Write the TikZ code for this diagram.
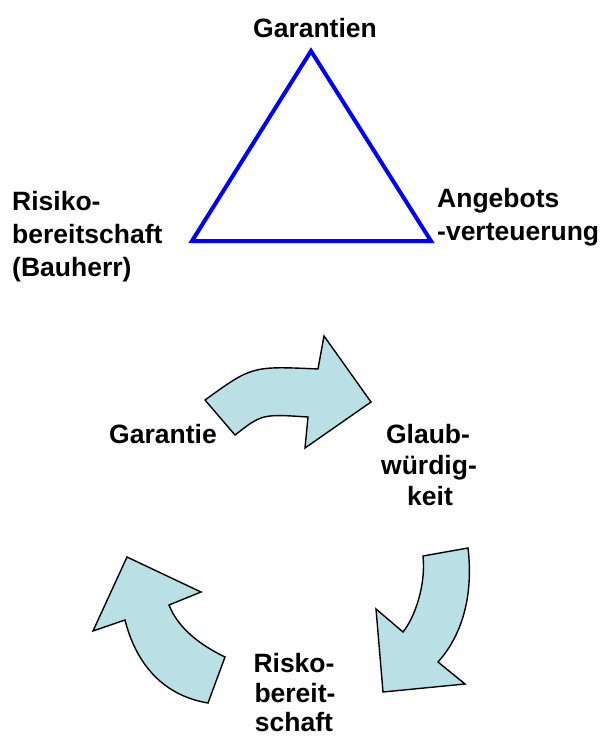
\documentclass[tikz,border=0pt]{standalone}
\usepackage{fontspec}
\setmainfont{Liberation Sans}
\begin{document}
\begin{tikzpicture}[x=1pt,y=-1pt,
  lbl/.style={font=\fontsize{26.5}{31}\selectfont\bfseries, inner sep=0pt},
  cyc/.style={fill={rgb,255:red,185;green,224;blue,228}, draw=black, line width=1.4pt, line join=miter},
  tri/.style={draw={rgb,255:red,0;green,0;blue,255}, line width=4pt, line join=miter}]
\useasboundingbox (0,0) rectangle (603,738);
% triangle
\coordinate (ta) at (311,51);
\coordinate (tl) at (192,241);
\coordinate (tr) at (431,241);
\draw[tri] (ta) -- (tr) -- (tl) -- cycle;
% triangle labels
\node[lbl, anchor=base] (garantien) at (315,38) {Garantien};
\node[lbl, anchor=base west] (ang1) at (437,207) {Angebots};
\node[lbl, anchor=base west] (ang2) at (437,240) {-verteuerung};
\node[lbl, anchor=base west] (ris1) at (12,210) {Risiko-};
\node[lbl, anchor=base west] (ris2) at (12,243) {bereitschaft};
\node[lbl, anchor=base west] (ris3) at (12,276) {(Bauherr)};
% cycle arrows
\draw[cyc] (205,400) .. controls (252,366) .. (318,369) -- (324,336) -- (371,402)
  -- (305,448) -- (308,417) .. controls (262,414) .. (235,435) -- cycle;
\draw[cyc] (423,556) -- (468,548) .. controls (473,590) and (465,632) .. (438,662)
  -- (465,684) -- (383,692) -- (376,609) -- (403,632)
  .. controls (415,617) and (426,585) .. (423,556) -- cycle;
\draw[cyc] (208,703) -- (225,657) .. controls (200,645) and (178,628) .. (169,605)
  -- (201,592) -- (127,557) -- (93,631) -- (125,620)
  .. controls (135,660) and (160,695) .. (208,703) -- cycle;
% cycle labels
\node[lbl, anchor=base] (gar) at (163,443) {Garantie};
\node[lbl, anchor=base] (gl1) at (428,443) {Glaub-};
\node[lbl, anchor=base] (gl2) at (429,474) {würdig-};
\node[lbl, anchor=base] (gl3) at (430,505) {keit};
\node[lbl, anchor=base] (rb1) at (294,672) {Risko-};
\node[lbl, anchor=base] (rb2) at (295,702) {bereit-};
\node[lbl, anchor=base] (rb3) at (294,731) {schaft};
\end{tikzpicture}
\end{document}
